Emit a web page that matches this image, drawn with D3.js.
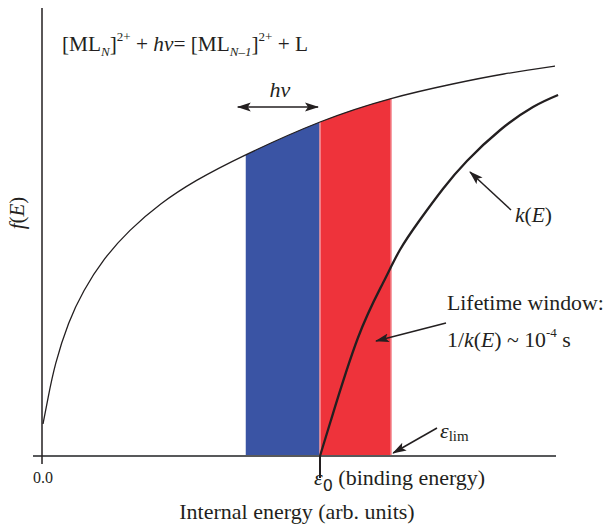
<!DOCTYPE html>
<html>
<head>
<meta charset="utf-8">
<script src="https://cdn.jsdelivr.net/npm/d3@7"></script>
<style>
body { margin: 0; background: #fff; }
text { font-family: "Liberation Serif", "Times New Roman", serif; fill: #231f20; }
</style>
</head>
<body>
<div id="chart"></div>
<script>
// energy axis in arbitrary units, f(E) and k(E)
var energyF = [0, 1, 2.5, 5, 8, 12, 17, 23, 30, 39.6, 54.1, 67.8, 80, 90, 100];
var fValues = [8, 14.6, 23.2, 33.1, 41.3, 49.2, 56.4, 63, 68.9, 75.3, 83.5, 89.3, 93, 95.5, 97.5];

var energyK = [54.1, 56.25, 61.5, 66.4, 69.7, 73.6, 78.1, 82.8, 89.3, 95.7, 100.6];
var kValues = [0, 9, 29.5, 43.25, 51.5, 59, 66.75, 73.75, 81.5, 87.25, 90.25];

var eps0 = 54.1;        // binding energy
var bandStart = 39.6;   // eps0 - hv
var bandEnd = 68.0;     // eps_lim
var xTickLabels = ["0.0"];

var width = 608, height = 524;

var svg = d3.select("#chart")
    .append("svg")
        .attr("width", width)
        .attr("height", height);

var x = d3.scaleLinear().domain([0, 100]).range([43, 555]);
var y = d3.scaleLinear().domain([0, 100]).range([456, 56]);

var fData = energyF.map(function(e, i){ return {e: e, v: fValues[i]}; });
var kData = energyK.map(function(e, i){ return {e: e, v: kValues[i]}; });

var defs = svg.append("defs");
defs.append("marker")
    .attr("id", "head")
    .attr("viewBox", "0 -5 14 10")
    .attr("refX", 13).attr("refY", 0)
    .attr("markerWidth", 14).attr("markerHeight", 10)
    .attr("markerUnits", "userSpaceOnUse")
    .attr("orient", "auto-start-reverse")
  .append("path")
    .attr("d", "M0,-4.5L14,0L0,4.5L3,0Z")
    .attr("fill", "#231f20");

// clip rectangles for the two coloured bands
defs.append("clipPath").attr("id", "clipBlue")
  .append("rect")
    .attr("x", x(bandStart)).attr("y", 0)
    .attr("width", x(eps0) - x(bandStart)).attr("height", height);
defs.append("clipPath").attr("id", "clipRed")
  .append("rect")
    .attr("x", x(eps0)).attr("y", 0)
    .attr("width", x(bandEnd) - x(eps0)).attr("height", height);

var area = d3.area()
    .x(function(d){ return x(d.e); })
    .y0(y(0))
    .y1(function(d){ return y(d.v); })
    .curve(d3.curveNatural);

var line = d3.line()
    .x(function(d){ return x(d.e); })
    .y(function(d){ return y(d.v); })
    .curve(d3.curveNatural);

svg.append("path")
    .attr("d", area(fData))
    .attr("fill", "#3a54a4")
    .attr("clip-path", "url(#clipBlue)");
svg.append("path")
    .attr("d", area(fData))
    .attr("fill", "#ee333b")
    .attr("clip-path", "url(#clipRed)");

// light edges of the red band, up to the f(E) curve
var edgeLine = svg.append("g");
[eps0, bandEnd].forEach(function(e){
    var p = svg.append("path").attr("d", line(fData)).attr("fill", "none");
    var node = p.node(), lo = 0, hi = node.getTotalLength();
    for (var i = 0; i < 40; i++){
        var mid = (lo + hi) / 2;
        if (node.getPointAtLength(mid).x < x(e)) lo = mid; else hi = mid;
    }
    var top = node.getPointAtLength(lo).y;
    p.remove();
    edgeLine.append("line")
        .attr("x1", x(e)).attr("x2", x(e))
        .attr("y1", y(0)).attr("y2", top)
        .attr("stroke", "#f59aa0")
        .attr("stroke-width", 1.5);
});

// axes
svg.append("line")
    .attr("x1", x(0) - 10).attr("x2", x(100) + 1)
    .attr("y1", y(0)).attr("y2", y(0))
    .attr("stroke", "#58595b").attr("stroke-width", 2);
svg.append("line")
    .attr("x1", x(0) - 1).attr("x2", x(0) - 1)
    .attr("y1", 8).attr("y2", y(0) + 8)
    .attr("stroke", "#231f20").attr("stroke-width", 1.5);
svg.append("line")
    .attr("x1", x(eps0)).attr("x2", x(eps0))
    .attr("y1", y(0)).attr("y2", y(0) + 22)
    .attr("stroke", "#231f20").attr("stroke-width", 2);

svg.selectAll(".tick-label")
    .data(xTickLabels)
    .enter().append("text")
    .attr("x", x(0))
    .attr("y", y(0) + 27)
    .attr("text-anchor", "middle")
    .style("font-size", "16px")
    .text(function(d){ return d; });

// curves
svg.append("path")
    .attr("d", line(fData))
    .attr("fill", "none")
    .attr("stroke", "#231f20")
    .attr("stroke-width", 1.3);
svg.append("path")
    .attr("d", line(kData))
    .attr("fill", "none")
    .attr("stroke", "#231f20")
    .attr("stroke-width", 2.3);

// hv arrow
svg.append("line")
    .attr("x1", x(bandStart) - 8).attr("x2", x(eps0) - 2)
    .attr("y1", 107).attr("y2", 107)
    .attr("stroke", "#231f20").attr("stroke-width", 1.5)
    .attr("marker-start", "url(#head)")
    .attr("marker-end", "url(#head)");
svg.append("text")
    .attr("x", 280).attr("y", 97)
    .attr("text-anchor", "middle")
    .style("font-size", "22px").style("font-style", "italic")
    .text("hν");

// equation
var eq = svg.append("text").attr("x", 62).attr("y", 51).style("font-size", "21.3px");
eq.append("tspan").text("[ML");
eq.append("tspan").attr("dy", 5).style("font-size", "13px").style("font-style", "italic").text("N");
eq.append("tspan").attr("dy", -5).text("]");
eq.append("tspan").attr("dy", -10).style("font-size", "13px").text("2+");
eq.append("tspan").attr("dy", 10).text(" + ");
eq.append("tspan").style("font-style", "italic").text("hν");
eq.append("tspan").text("= [ML");
eq.append("tspan").attr("dy", 5).style("font-size", "13px").style("font-style", "italic").text("N–1");
eq.append("tspan").attr("dy", -5).text("]");
eq.append("tspan").attr("dy", -10).style("font-size", "13px").text("2+");
eq.append("tspan").attr("dy", 10).text(" + L");

// k(E) label
svg.append("line")
    .attr("x1", 511).attr("y1", 210)
    .attr("x2", 470).attr("y2", 172)
    .attr("stroke", "#231f20").attr("stroke-width", 1.5)
    .attr("marker-end", "url(#head)");
var kl = svg.append("text").attr("x", 515).attr("y", 222).style("font-size", "21.5px");
kl.append("tspan").style("font-style", "italic").text("k");
kl.append("tspan").text("(");
kl.append("tspan").style("font-style", "italic").text("E");
kl.append("tspan").text(")");

// lifetime window
svg.append("text")
    .attr("x", 447).attr("y", 310)
    .style("font-size", "21.8px")
    .text("Lifetime window:");
var lt = svg.append("text").attr("x", 447).attr("y", 347).style("font-size", "21.8px");
lt.append("tspan").text("1/");
lt.append("tspan").style("font-style", "italic").text("k");
lt.append("tspan").text("(");
lt.append("tspan").style("font-style", "italic").text("E");
lt.append("tspan").text(") ~ 10");
lt.append("tspan").attr("dy", -10).style("font-size", "13px").text("-4");
lt.append("tspan").attr("dy", 10).text(" s");
svg.append("line")
    .attr("x1", 446).attr("y1", 323)
    .attr("x2", 376).attr("y2", 341)
    .attr("stroke", "#231f20").attr("stroke-width", 1.5)
    .attr("marker-end", "url(#head)");

// eps_lim
var el = svg.append("text").attr("x", 440).attr("y", 438).style("font-size", "22px");
el.append("tspan").style("font-style", "italic").text("ε");
el.append("tspan").attr("dy", 3).style("font-size", "15px").text("lim");
svg.append("line")
    .attr("x1", 437).attr("y1", 428)
    .attr("x2", x(bandEnd) + 2).attr("y2", y(0) - 3)
    .attr("stroke", "#231f20").attr("stroke-width", 1.5)
    .attr("marker-end", "url(#head)");

// eps0 label
var e0 = svg.append("text").attr("x", x(eps0) - 6).attr("y", 485).style("font-size", "22px");
e0.append("tspan").style("font-style", "italic").text("ε");
e0.append("tspan").attr("dy", 6).style("font-size", "16px").style("font-family", "DejaVu Sans").text("0");
e0.append("tspan").attr("dy", -6).text(" (binding energy)");

// axis titles
svg.append("text")
    .attr("x", 297).attr("y", 519)
    .attr("text-anchor", "middle")
    .style("font-size", "22px")
    .text("Internal energy (arb. units)");
var fl = svg.append("text")
    .attr("transform", "translate(24," + 213 + ") rotate(-90)")
    .attr("text-anchor", "middle")
    .style("font-size", "21px");
fl.append("tspan").style("font-style", "italic").text("f");
fl.append("tspan").text("(");
fl.append("tspan").style("font-style", "italic").text("E");
fl.append("tspan").text(")");
</script>
</body>
</html>
